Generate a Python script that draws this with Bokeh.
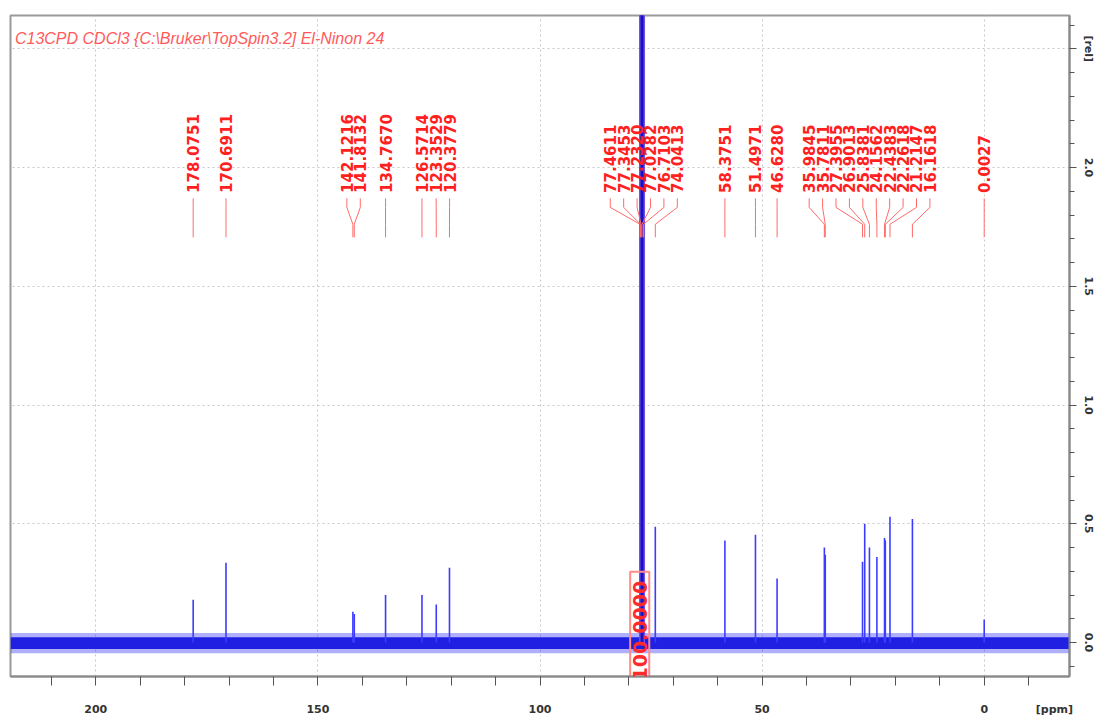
import math
from bokeh.plotting import figure
from bokeh.models import Range1d, FixedTicker, Label
from bokeh.core.properties import value
from bokeh.embed import file_html
from bokeh.resources import INLINE

# ---------------- data ----------------
title_text = "C13CPD CDCl3 {C:\\Bruker\\TopSpin3.2] El-Ninon 24"
peak_ppm = [178.0751, 170.6911, 142.1216, 141.8132, 134.7670, 126.5714, 123.3529,
            120.3779, 77.4611, 77.3453, 77.2320, 77.0282, 76.7103, 74.0413, 58.3751,
            51.4971, 46.6280, 35.9845, 35.7811, 27.3955, 26.9013, 25.8381, 24.1562,
            22.4383, 22.2618, 21.2147, 16.1618, 0.0027]
peak_height = [0.18, 0.336, 0.13, 0.12, 0.20, 0.20, 0.16,
               0.315, 4.0, 4.0, 4.0, 4.0, 4.0, 0.487, 0.43,
               0.454, 0.27, 0.40, 0.37, 0.34, 0.50, 0.40, 0.36,
               0.44, 0.43, 0.53, 0.52, 0.097]
solvent_ppm = [77.0282]
solvent_height = [4.0]
noise_low = -0.045
noise_high = 0.040
integral_region = [79.7, 75.4]
integral_value = "100.0000"
x_ticks = [200, 150, 100, 50, 0]
x_tick_labels = ["200", "150", "100", "50", "0"]
x_unit_label = "[ppm]"
x_unit_pos = -15.8
y_ticks = [0.0, 0.5, 1.0, 1.5, 2.0, 2.5]
y_tick_labels = ["0.0", "0.5", "1.0", "1.5", "2.0", "[rel]"]

# ---------------- figure ----------------
X0, X1 = 219.2, -19.2
Y0, Y1 = -0.143, 2.64
p = figure(width=1097, height=718, x_range=Range1d(X0, X1), y_range=Range1d(Y0, Y1),
           output_backend="svg", toolbar_location=None, y_axis_location="right",
           min_border_left=10, min_border_top=15, min_border_right=0, min_border_bottom=0,
           background_fill_color="white", border_fill_color="white")

p.outline_line_color = "#9a9a9a"
p.outline_line_width = 2

for g in (p.xgrid, p.ygrid):
    g.grid_line_color = "#c8c8c8"
    g.grid_line_dash = "2 3"
    g.grid_line_width = 1
p.xgrid.ticker = FixedTicker(ticks=x_ticks)

ax = p.xaxis[0]
ax.ticker = FixedTicker(ticks=x_ticks + [x_unit_pos],
                        minor_ticks=[210 - 10 * i for i in range(23)])
ax.major_label_overrides = {t: s for t, s in zip(x_ticks + [x_unit_pos], x_tick_labels + [x_unit_label])}
ax.axis_line_color = "#8a8a8a"
ax.axis_line_width = 2
ax.major_tick_line_color = None
ax.minor_tick_line_color = "#555"
ax.major_tick_out = 10
ax.major_tick_in = 0
ax.minor_tick_out = 9
ax.minor_tick_in = 0
ax.major_label_standoff = 16
ax.major_label_text_font = "DejaVu Sans"
ax.major_label_text_font_style = "bold"
ax.major_label_text_font_size = "11px"
ax.major_label_text_color = "#333"

ay = p.yaxis[0]
ay.ticker = FixedTicker(ticks=y_ticks, minor_ticks=[round(-0.1 + 0.1 * i, 2) for i in range(28)])
ay.major_label_overrides = {t: s for t, s in zip(y_ticks, y_tick_labels)}
ay.major_label_orientation = "vertical"
ay.axis_line_color = "#8a8a8a"
ay.axis_line_width = 2
ay.major_tick_line_color = "#555"
ay.minor_tick_line_color = "#555"
ay.major_tick_out = 7
ay.major_tick_in = 0
ay.minor_tick_out = 5
ay.minor_tick_in = 0
ay.major_label_standoff = 5
ay.major_label_text_font = "DejaVu Sans"
ay.major_label_text_font_style = "bold"
ay.major_label_text_font_size = "11px"
ay.major_label_text_color = "#333"

# ---------------- spectrum ----------------
p.varea(x=[X0, X1], y1=[noise_low, noise_low], y2=[noise_high, noise_high],
        fill_color="#3a3af2", fill_alpha=0.40)
p.varea(x=[X0, X1], y1=[noise_low * 0.6, noise_low * 0.6], y2=[noise_high * 0.55, noise_high * 0.55],
        fill_color="#2020e2", fill_alpha=1.0)

p.segment(x0=peak_ppm, y0=[0] * len(peak_ppm), x1=peak_ppm, y1=peak_height,
          line_color="#3c3cff", line_width=1.6)
p.segment(x0=solvent_ppm, y0=[0], x1=solvent_ppm, y1=solvent_height,
          line_color="#7050e0", line_width=6)
p.segment(x0=solvent_ppm, y0=[0], x1=solvent_ppm, y1=solvent_height,
          line_color="#1a10c4", line_width=3)

# ---------------- integral box ----------------
p.quad(left=[integral_region[0]], right=[integral_region[1]], bottom=[-0.3], top=[0.298],
       fill_color=None, line_color="#ff8a8a", line_width=2)
p.add_layout(Label(x=sum(integral_region) / 2, y=-0.16, text=integral_value, angle=math.pi / 2,
                   text_align="left", text_baseline="middle", text_color="#ff2a2a",
                   text_font="DejaVu Sans", text_font_style="bold", text_font_size="19px"))

# ---------------- peak labels ----------------
def spread(vals, d):
    clusters = [[v] for v in vals]
    def bounds(c):
        m = sum(c) / len(c)
        h = (len(c) - 1) / 2 * d
        return m + h, m - h
    merged = True
    while merged:
        merged = False
        for i in range(len(clusters) - 1):
            if bounds(clusters[i])[1] - bounds(clusters[i + 1])[0] < d:
                clusters[i] = clusters[i] + clusters[i + 1]
                del clusters[i + 1]
                merged = True
                break
    pos = []
    for c in clusters:
        top = bounds(c)[0]
        pos += [top - k * d for k in range(len(c))]
    return pos

label_x = spread(peak_ppm, 3.02)
ya, yb, yc, yd = 1.870, 1.832, 1.761, 1.706
xs = [[lx, lx, px, px] for lx, px in zip(label_x, peak_ppm)]
ys = [[ya, yb, yc, yd] for _ in peak_ppm]
p.multi_line(xs=xs, ys=ys, line_color="#ff6a6a", line_width=1)
p.text(x=label_x, y=[1.893] * len(label_x), text=[f"{v:.4f}" for v in peak_ppm],
       angle=math.pi / 2, text_align="left", text_baseline="middle",
       text_color="#ff2020", text_font=value("DejaVu Sans"), text_font_style="bold",
       text_font_size="15px")

# ---------------- texts ----------------
p.text(x=[218.2], y=[2.545], text=[title_text], text_align="left", text_baseline="middle",
       text_color="#ff5a5a", text_font=value("Liberation Sans"), text_font_style="italic",
       text_font_size="16px")

open("out.html", "w").write(file_html(p, INLINE))
